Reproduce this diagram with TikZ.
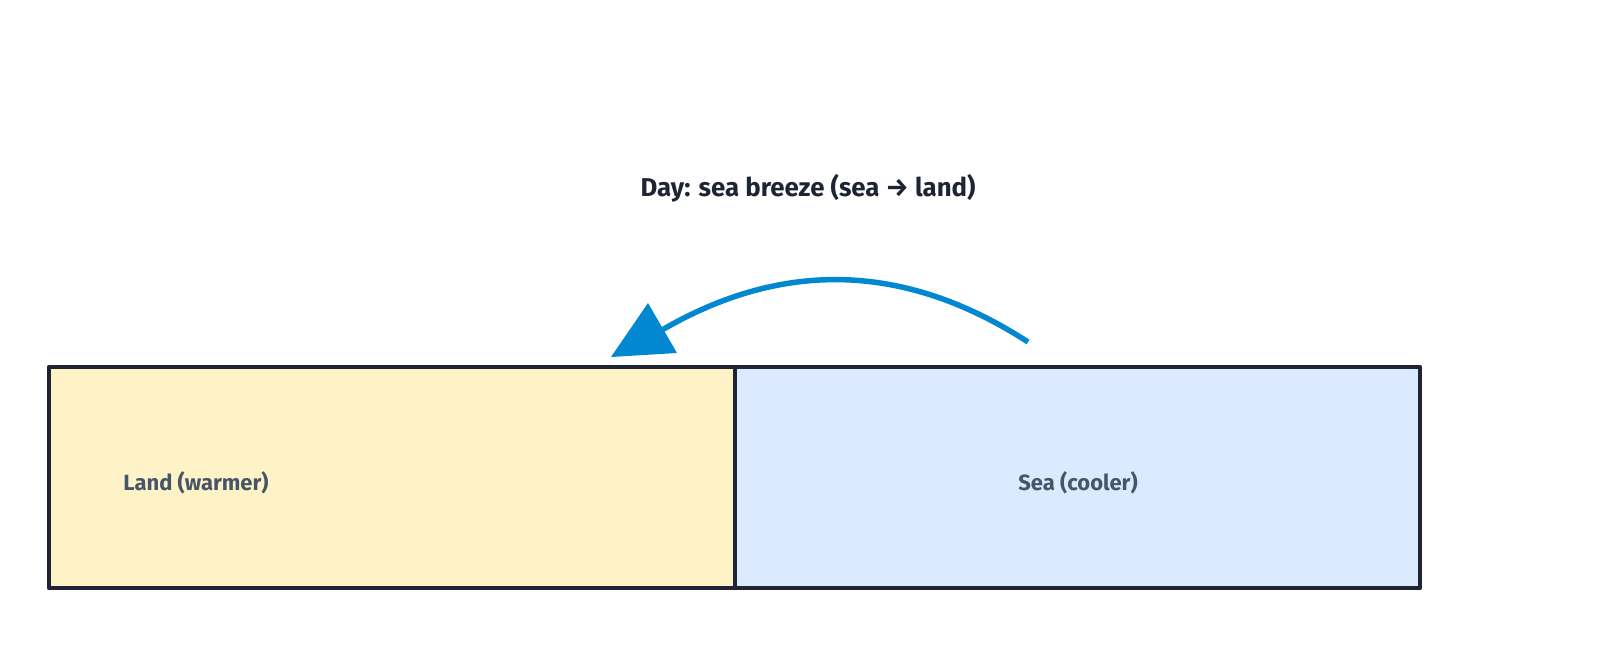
\documentclass[tikz,border=0pt]{standalone}
\usepackage{fontspec}
\setmainfont{Fira Sans}
\definecolor{landfill}{HTML}{FEF3C7}
\definecolor{seafill}{HTML}{DBEAFE}
\definecolor{edge}{HTML}{1E2433}
\definecolor{labeltxt}{HTML}{475569}
\definecolor{titletxt}{HTML}{1E2433}
\definecolor{wind}{HTML}{0288D1}
\begin{document}
\begin{tikzpicture}[x=1pt,y=-1pt,
  zone/.style={draw=edge,line width=4.5pt,line join=round},
  zonelabel/.style={text=labeltxt,font=\fontsize{22}{26}\selectfont\bfseries},
  windline/.style={draw=wind,line width=5.5pt}]
\useasboundingbox[fill=white] (0,0) rectangle (1600,650);
\path[zone,fill=landfill] (49,367) rectangle (735,588);
\path[zone,fill=seafill] (735,367) rectangle (1420,588);
\node[zonelabel] (land) at (196,483) {Land (warmer)};
\node[zonelabel] (sea) at (1078,483) {Sea (cooler)};
\node[text=titletxt,font=\fontsize{25.8}{30}\selectfont\bfseries] (title) at (808,188) {Day: sea breeze (sea → land)};
\coordinate (start) at (1028,342);
\coordinate (base) at (662,330);
\coordinate (tipA) at (648,303);
\coordinate (tipB) at (611,357);
\coordinate (tipC) at (677,353);
\draw[windline] (start) .. controls (906,263) and (784,259) .. (base);
\fill[wind] (tipA) -- (tipB) -- (tipC) -- cycle;
\end{tikzpicture}
\end{document}
